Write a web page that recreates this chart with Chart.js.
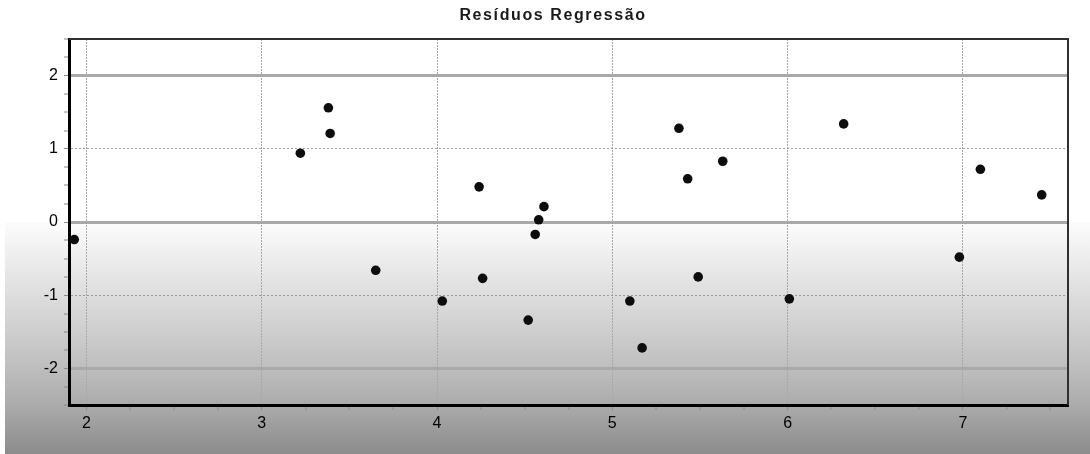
<!DOCTYPE html>
<html>
<head>
<meta charset="utf-8">
<script src="https://cdn.jsdelivr.net/npm/chart.js@4.4.1/dist/chart.umd.min.js"></script>
<style>
  html, body { margin: 0; padding: 0; background: #fff; }
  canvas { display: block; }
</style>
</head>
<body>
<canvas id="residuosChart" width="1090" height="454"></canvas>
<script>
// valores ajustados (eixo x) e residuos (eixo y)
const fitted = [1.93, 3.22, 3.38, 3.39, 3.65, 4.03, 4.24, 4.26, 4.52, 4.56, 4.58, 4.61,
                5.10, 5.17, 5.38, 5.43, 5.49, 5.63, 6.01, 6.32, 6.98, 7.10, 7.45];
const residuals = [-0.24, 0.94, 1.56, 1.21, -0.66, -1.08, 0.48, -0.77, -1.34, -0.17, 0.03, 0.21,
                   -1.08, -1.72, 1.28, 0.59, -0.75, 0.83, -1.05, 1.34, -0.48, 0.72, 0.37];
const xTickLabels = ['2', '3', '4', '5', '6', '7'];
const yTickLabels = ['-2', '-1', '0', '1', '2'];
const xRange = [1.9, 7.6];
const yRange = [-2.5, 2.5];

const points = fitted.map((x, i) => ({ x: x, y: residuals[i] }));

const backdrop = {
    id: 'backdrop',
    beforeDraw(chart) {
        const { ctx, width, height } = chart;
        const top = 222;
        ctx.save();
        ctx.fillStyle = '#ffffff';
        ctx.fillRect(0, 0, width, height);
        const g = ctx.createLinearGradient(0, top, 0, height);
        g.addColorStop(0, '#fcfcfc');
        g.addColorStop(0.42, '#d3d3d3');
        g.addColorStop(0.63, '#bebebe');
        g.addColorStop(0.79, '#ababab');
        g.addColorStop(1, '#8b8b8b');
        ctx.fillStyle = g;
        ctx.fillRect(5, top, width - 5, height - top);
        ctx.restore();
        // espaçamento só para o titulo (rótulos desenhados depois, z = 1)
        ctx.letterSpacing = '1.6px';
    },
    beforeDatasetsDraw(chart) {
        const { ctx, chartArea: a } = chart;
        ctx.letterSpacing = '0px';
        ctx.save();
        ctx.strokeStyle = '#303030';
        ctx.lineWidth = 2;
        ctx.beginPath();
        ctx.moveTo(a.left, a.top);
        ctx.lineTo(a.right, a.top);
        ctx.lineTo(a.right, a.bottom);
        ctx.stroke();
        ctx.restore();
    }
};

const isMajor = (v) => v === 2 || v === -2 || v === 0;

new Chart(document.getElementById('residuosChart').getContext('2d'), {
    type: 'scatter',
    data: {
        datasets: [{
            data: points,
            backgroundColor: '#0d0d0d',
            borderColor: '#0d0d0d',
            borderWidth: 0,
            pointRadius: 4.8,
            pointHoverRadius: 4.8
        }]
    },
    options: {
        responsive: false,
        animation: false,
        layout: { padding: { left: 38, right: 22, top: 0, bottom: 0 } },
        plugins: {
            legend: { display: false },
            tooltip: { enabled: false },
            title: {
                display: true,
                text: 'Resíduos Regressão',
                color: '#1a1a1a',
                font: { family: 'Liberation Sans, Arial, sans-serif', size: 16, weight: 'bold' },
                padding: { top: 6, bottom: 13.8 }
            }
        },
        scales: {
            x: {
                type: 'linear',
                min: xRange[0],
                max: xRange[1],
                afterFit: (scale) => { scale.height = 49; },
                border: {
                    color: '#000000',
                    width: 3,
                    dash: [2, 1]
                },
                grid: {
                    color: (c) => Number.isInteger(c.tick.value) ? '#a8a8a8' : 'rgba(0,0,0,0)',
                    lineWidth: (c) => Number.isInteger(c.tick.value) ? 1 : 0,
                    tickColor: '#8a8a8a',
                    tickWidth: 1,
                    tickLength: 5
                },
                ticks: {
                    stepSize: 0.25,
                    includeBounds: false,
                    autoSkip: false,
                    maxRotation: 0,
                    padding: 4,
                    z: 1,
                    color: '#000000',
                    font: { family: 'Liberation Sans, Arial, sans-serif', size: 16 },
                    callback: (v) => xTickLabels.includes(String(v)) ? String(v) : ''
                }
            },
            y: {
                min: yRange[0],
                max: yRange[1],
                afterFit: (scale) => { scale.width = 31; },
                border: {
                    color: '#000000',
                    width: 3,
                    dash: (c) => c.tick && Math.abs(c.tick.value) === 1 ? [2, 2] : []
                },
                grid: {
                    color: (c) => {
                        const v = c.tick.value;
                        if (isMajor(v)) return '#a9a9a9';
                        if (Math.abs(v) === 1) return '#9c9c9c';
                        return 'rgba(0,0,0,0)';
                    },
                    lineWidth: (c) => {
                        const v = c.tick.value;
                        if (isMajor(v)) return 3;
                        if (Math.abs(v) === 1) return 1;
                        return 0;
                    },
                    tickColor: '#8a8a8a',
                    tickWidth: 1,
                    tickLength: 5
                },
                ticks: {
                    stepSize: 0.25,
                    autoSkip: false,
                    padding: 6,
                    z: 1,
                    color: '#000000',
                    font: { family: 'Liberation Sans, Arial, sans-serif', size: 16 },
                    callback: (v) => yTickLabels.includes(String(v)) ? String(v) : ''
                }
            }
        }
    },
    plugins: [backdrop]
});
</script>
</body>
</html>
